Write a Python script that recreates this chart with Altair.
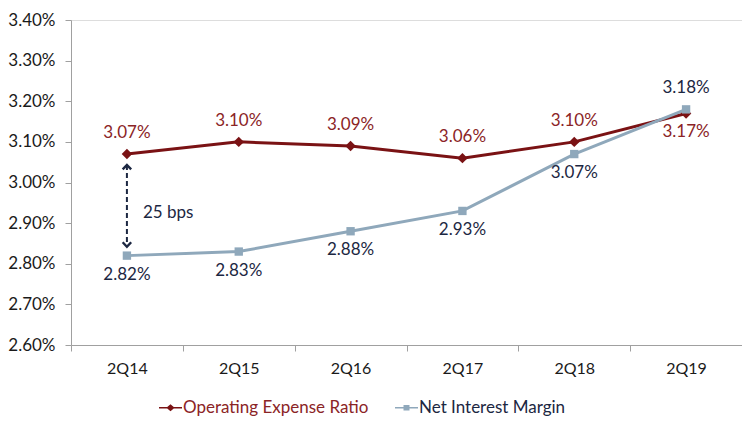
import altair as alt
import pandas as pd

quarters = ["2Q14", "2Q15", "2Q16", "2Q17", "2Q18", "2Q19"]
oer = [3.07, 3.10, 3.09, 3.06, 3.10, 3.17]
nim = [2.82, 2.83, 2.88, 2.93, 3.07, 3.18]
series_names = ["Operating Expense Ratio", "Net Interest Margin"]
gap_label = "25 bps"
y_ticks = [2.60, 2.70, 2.80, 2.90, 3.00, 3.10, 3.20, 3.30, 3.40]

RED = "#7A1214"
BLUE = "#8FA8BB"
RED_TXT = "#8B2426"
NAVY = "#1C2742"
AXIS_GRAY = "#A0A0A0"
FONT = "Lato"

rows = []
for i, q in enumerate(quarters):
    rows.append(dict(q=q, s=series_names[0], v=oer[i] / 100, above=oer[i] >= nim[i]))
    rows.append(dict(q=q, s=series_names[1], v=nim[i] / 100, above=nim[i] > oer[i]))
df = pd.DataFrame(rows)

arrow_df = pd.DataFrame([dict(q=quarters[0], top=oer[0] / 100, bot=nim[0] / 100,
                              mid=(oer[0] + nim[0]) / 200, txt=gap_label)])

x_enc = alt.X(
    "q:N", sort=quarters, bandPosition=0.5,
    scale=alt.Scale(type="band", domain=quarters, paddingInner=0, paddingOuter=0),
    axis=alt.Axis(title=None, labelAngle=0, tickBand="extent", domainColor=AXIS_GRAY,
                  tickColor=AXIS_GRAY, tickSize=6, labelPadding=9, labelFontSize=16,
                  labelColor="#1a1a1a", labelFont=FONT),
)
y_scale = alt.Scale(domain=[0.026, 0.034], nice=False, zero=False)
y_enc = alt.Y(
    "v:Q", scale=y_scale,
    axis=alt.Axis(title=None, format=".2%", values=[t / 100 for t in y_ticks], grid=False,
                  domainColor=AXIS_GRAY, tickColor=AXIS_GRAY, tickSize=6, labelPadding=10,
                  labelFontSize=17, labelColor="#1a1a1a", labelFont=FONT),
)

base = alt.Chart(df)

line_oer = base.transform_filter(alt.datum.s == series_names[0]).mark_line(
    color=RED, strokeWidth=3).encode(x=x_enc, y=y_enc)
line_nim = base.transform_filter(alt.datum.s == series_names[1]).mark_line(
    color=BLUE, strokeWidth=3).encode(x=x_enc, y=y_enc)

legend_shape_expr = (
    "datum.value == '" + series_names[0] + "' ? "
    "'M-1,-0.07H1V0.07H-1Z M-0.36,0L0,-0.3L0.36,0L0,0.3Z' : "
    "'M-1,-0.07H1V0.07H-1Z M-0.26,-0.24H0.26V0.24H-0.26Z'"
)
legend_color_expr = (
    "datum.value == '" + series_names[0] + "' ? '" + RED_TXT + "' : '" + NAVY + "'"
)

color_enc = alt.Color(
    "s:N",
    scale=alt.Scale(domain=series_names, range=[RED, BLUE]),
    legend=alt.Legend(
        title=None, orient="none", direction="horizontal", legendX=88, legendY=376,
        symbolType=alt.ExprRef(legend_shape_expr), symbolSize=529,
        symbolStrokeWidth=0, labelFontSize=17, labelFont=FONT, labelLimit=0,
        labelColor=alt.ExprRef(legend_color_expr), labelOffset=1,
        columnPadding=26, symbolOpacity=1,
    ),
)

points_oer = base.transform_filter(alt.datum.s == series_names[0]).mark_point(
    filled=True, opacity=1, shape="diamond", size=110).encode(x=x_enc, y=y_enc, color=color_enc)
points_nim = base.transform_filter(alt.datum.s == series_names[1]).mark_point(
    filled=True, opacity=1, shape="square", size=70).encode(x=x_enc, y=y_enc, color=color_enc)

txt_color = alt.condition(alt.datum.s == series_names[0], alt.value(RED_TXT), alt.value(NAVY))
labels_above = base.transform_filter(alt.datum.above).mark_text(
    dy=-21, fontSize=17, font=FONT).encode(
    x=x_enc, y=y_enc, text=alt.Text("v:Q", format=".2%"), color=txt_color)
labels_below = base.transform_filter(~alt.datum.above).mark_text(
    dy=19, fontSize=17, font=FONT).encode(
    x=x_enc, y=y_enc, text=alt.Text("v:Q", format=".2%"), color=txt_color)

abase = alt.Chart(arrow_df)
arrow_rule = abase.mark_rule(color=NAVY, strokeWidth=2, strokeDash=[5, 3],
                             yOffset=11, y2Offset=-9).encode(
    x=x_enc, y=alt.Y("top:Q", scale=y_scale), y2="bot:Q")
head_up = abase.mark_point(shape="M-1,0.55L0,-0.5L1,0.55", filled=False, color=NAVY,
                           strokeWidth=2.4, size=72, opacity=1, yOffset=13).encode(
    x=x_enc, y=alt.Y("top:Q", scale=y_scale))
head_down = abase.mark_point(shape="M-1,-0.55L0,0.5L1,-0.55", filled=False, color=NAVY,
                             strokeWidth=2.4, size=72, opacity=1, yOffset=-11).encode(
    x=x_enc, y=alt.Y("bot:Q", scale=y_scale))
gap_text = abase.mark_text(align="left", dx=16, dy=8, fontSize=17, font=FONT,
                           color=NAVY).encode(
    x=x_enc, y=alt.Y("mid:Q", scale=y_scale), text="txt:N")

chart = alt.layer(
    line_oer, line_nim, points_oer, points_nim, labels_above, labels_below,
    arrow_rule, head_up, head_down, gap_text,
).properties(
    width=671, height=325,
    autosize=alt.AutoSizeParams(type="none"),
    padding={"left": 63, "top": 12, "right": 0, "bottom": 76},
).configure_view(stroke=None).configure(background="white")

chart.save("out.html", embed_options={"renderer": "svg", "actions": False})
